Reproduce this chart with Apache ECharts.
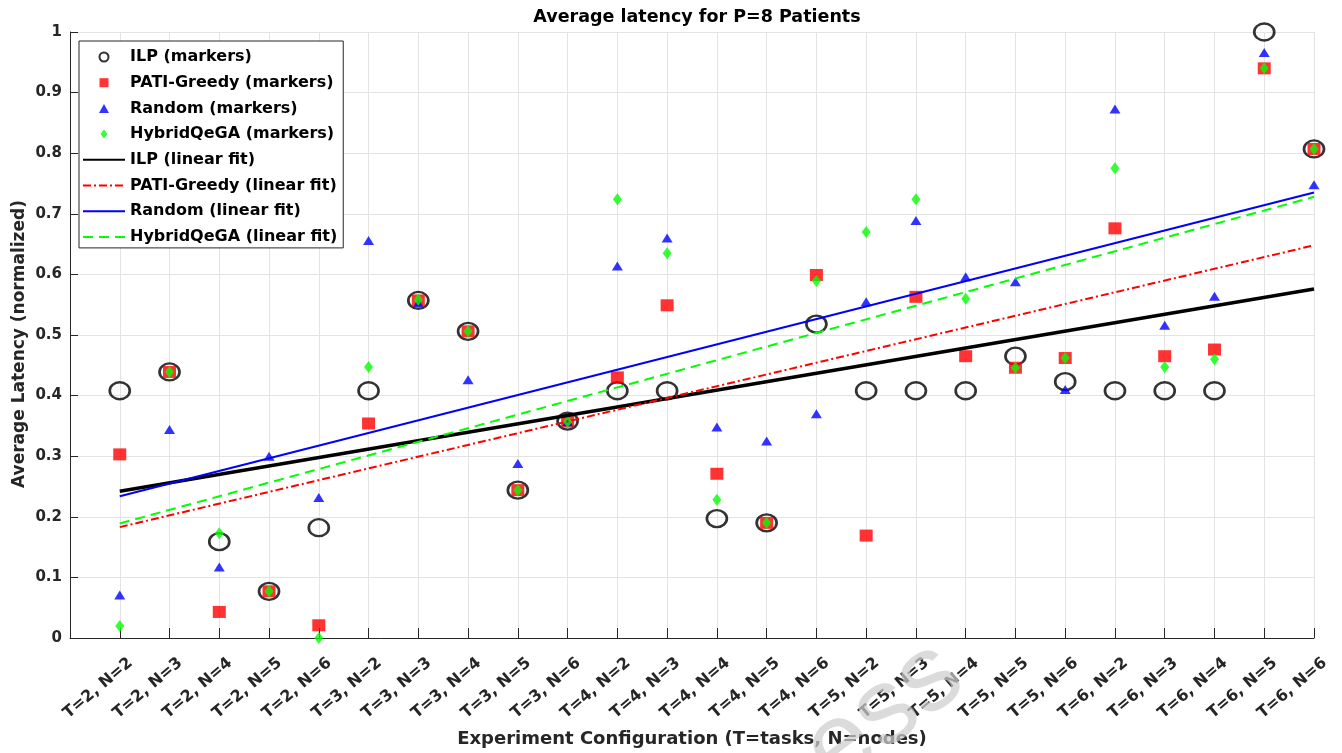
<!DOCTYPE html>
<html>
<head>
<meta charset="utf-8">
<script src="https://cdn.jsdelivr.net/npm/echarts@6/dist/echarts.min.js"></script>
<style>html,body{margin:0;padding:0;background:#fff}#c{width:1342px;height:753px}</style>
</head>
<body>
<div id="c"></div>
<script>
const categories = ['T=2, N=2','T=2, N=3','T=2, N=4','T=2, N=5','T=2, N=6',
  'T=3, N=2','T=3, N=3','T=3, N=4','T=3, N=5','T=3, N=6',
  'T=4, N=2','T=4, N=3','T=4, N=4','T=4, N=5','T=4, N=6',
  'T=5, N=2','T=5, N=3','T=5, N=4','T=5, N=5','T=5, N=6',
  'T=6, N=2','T=6, N=3','T=6, N=4','T=6, N=5','T=6, N=6'];
const ilp    = [0.408,0.439,0.159,0.077,0.182,0.408,0.557,0.506,0.244,0.358,0.408,0.408,0.197,0.190,0.518,0.408,0.408,0.408,0.465,0.423,0.408,0.408,0.408,1.000,0.807];
const pati   = [0.303,0.439,0.043,0.077,0.021,0.354,0.557,0.506,0.244,0.357,0.430,0.549,0.271,0.190,0.599,0.169,0.563,0.465,0.446,0.462,0.676,0.465,0.476,0.940,0.807];
const random = [0.071,0.344,0.117,0.300,0.232,0.656,0.553,0.426,0.288,0.357,0.614,0.660,0.348,0.325,0.370,0.555,0.689,0.596,0.588,0.410,0.873,0.516,0.564,0.966,0.748];
const hybrid = [0.020,0.439,0.173,0.077,0.000,0.447,0.558,0.506,0.244,0.357,0.724,0.635,0.228,0.190,0.589,0.670,0.724,0.560,0.446,0.462,0.775,0.447,0.460,0.940,0.807];
// linear fit endpoints (first and last configuration)
const ilpFit    = [0.242, 0.576];
const patiFit   = [0.183, 0.648];
const randomFit = [0.234, 0.735];
const hybridFit = [0.189, 0.728];
const yTicks = [0,0.1,0.2,0.3,0.4,0.5,0.6,0.7,0.8,0.9,1];

const FONT = 'DejaVu Sans';
// axis slot 0 is the empty margin slot at the left edge of the plot
const axisCats = [''].concat(categories);
const pts = arr => arr.map((v,i)=>[i+1, v]);
const fit = f => [[1, f[0]], [categories.length, f[1]]];

const chart = echarts.init(document.getElementById('c'), null, {renderer:'canvas'});
chart.setOption({
  animation:false,
  backgroundColor:'#fff',
  title:{text:'Average latency for P=8 Patients', left:692, top:3, textAlign:'center',
    textStyle:{fontFamily:FONT, fontWeight:'bold', fontSize:17.5, color:'#000'}},
  grid:{left:70, right:28, top:32, bottom:115, containLabel:false, outerBoundsMode:'none'},
  legend:{orient:'vertical', left:79, top:41, padding:[8,6,3,3], itemWidth:42, itemHeight:9, itemGap:9.7,
    symbolKeepAspect:true,
    borderColor:'#262626', borderWidth:1, backgroundColor:'#fff',
    textStyle:{fontFamily:FONT, fontWeight:'bold', fontSize:16, color:'#000', lineHeight:16},
    data:[
      {name:'ILP (markers)', icon:'path://M5,0A5,5 0 1,1 4.99,0Z', itemStyle:{color:'rgba(255,255,255,0)', borderColor:'#000', borderWidth:2}},
      {name:'PATI-Greedy (markers)', icon:'path://M0,0L10,0L10,10L0,10Z'},
      {name:'Random (markers)', icon:'path://M5,0L10,9L0,9Z'},
      {name:'HybridQeGA (markers)', icon:'path://M5,0L10,6.5L5,13L0,6.5Z'},
      {name:'ILP (linear fit)', itemStyle:{opacity:0}},
      {name:'PATI-Greedy (linear fit)', itemStyle:{opacity:0}},
      {name:'Random (linear fit)', itemStyle:{opacity:0}},
      {name:'HybridQeGA (linear fit)', itemStyle:{opacity:0}}
    ]},
  xAxis:{type:'category', data:axisCats, boundaryGap:false,
    axisLine:{show:true, onZero:false, lineStyle:{color:'#262626', width:1}},
    axisTick:{show:true, inside:true, length:10, interval:0, lineStyle:{color:'#262626'}},
    splitLine:{show:true, interval:0, lineStyle:{color:'#e3e3e3', width:1}},
    axisLabel:{interval:0, rotate:40, margin:10, verticalAlign:'top', lineHeight:34,
      fontFamily:FONT, fontWeight:'bold', fontSize:16, color:'#262626'},
    name:'Experiment Configuration (T=tasks, N=nodes)', nameLocation:'middle', nameGap:92, nameMoveOverlap:false,
    nameTextStyle:{fontFamily:FONT, fontWeight:'bold', fontSize:18, color:'#262626'}},
  yAxis:{type:'value', min:0, max:1, interval:0.1,
    axisLine:{show:true, lineStyle:{color:'#262626', width:1}},
    axisTick:{show:true, inside:true, length:8, lineStyle:{color:'#262626'}},
    splitLine:{show:true, lineStyle:{color:'#e3e3e3', width:1}},
    axisLabel:{margin:8, fontFamily:FONT, fontWeight:'bold', fontSize:15, color:'#262626',
      formatter: v => { const t = yTicks.find(x => Math.abs(x-v) < 1e-9); return t === undefined ? '' : String(t); }},
    name:'Average Latency (normalized)', nameLocation:'middle', nameGap:42, nameMoveOverlap:false,
    nameTextStyle:{fontFamily:FONT, fontWeight:'bold', fontSize:17, color:'#262626', padding:[0,18,0,0]}},
  graphic:[{type:'text', x:884, y:714, rotation:0.65, silent:true, z:100,
    style:{text:'ess', font:'108px "Liberation Sans"', fill:'rgba(205,205,205,0.72)', align:'center', verticalAlign:'middle'}}],
  series:[
    {name:'ILP (markers)', type:'scatter', data:pts(ilp), symbol:'circle', symbolSize:[20,17],
      itemStyle:{color:'rgba(255,255,255,0)', borderColor:'#000', borderWidth:2.5}},
    {name:'PATI-Greedy (markers)', type:'scatter', data:pts(pati), symbol:'rect', symbolSize:[13,12],
      itemStyle:{color:'#ff0000'}},
    {name:'Random (markers)', type:'scatter', data:pts(random), symbol:'triangle', symbolSize:[11,9],
      itemStyle:{color:'#0000ff'}},
    {name:'HybridQeGA (markers)', type:'scatter', data:pts(hybrid), symbol:'diamond', symbolSize:[9,12],
      itemStyle:{color:'#00ff00'}},
    {name:'ILP (linear fit)', type:'line', data:fit(ilpFit), symbol:'none',
      lineStyle:{color:'#000', width:3.5}, itemStyle:{color:'#000'}},
    {name:'PATI-Greedy (linear fit)', type:'line', data:fit(patiFit), symbol:'none',
      lineStyle:{color:'#ff0000', width:2, type:[8,3,2,3]}, itemStyle:{color:'#ff0000'}},
    {name:'Random (linear fit)', type:'line', data:fit(randomFit), symbol:'none',
      lineStyle:{color:'#0000ff', width:2}, itemStyle:{color:'#0000ff'}},
    {name:'HybridQeGA (linear fit)', type:'line', data:fit(hybridFit), symbol:'none',
      lineStyle:{color:'#00ff00', width:2, type:[10,6]}, itemStyle:{color:'#00ff00'}}
  ]
});
</script>
</body>
</html>
